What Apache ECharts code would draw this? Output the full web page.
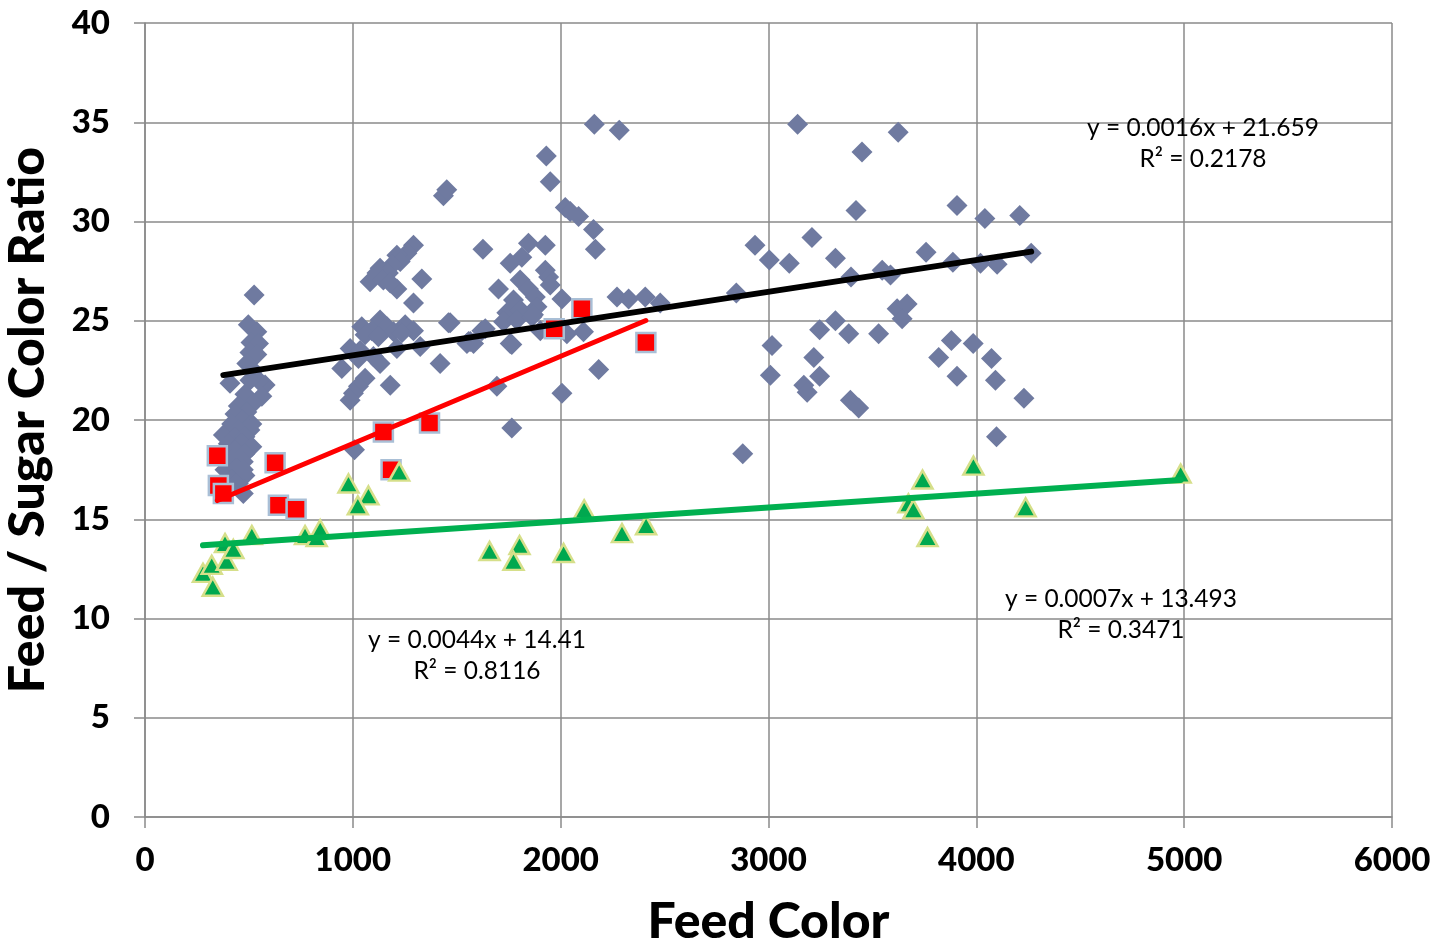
<!DOCTYPE html>
<html>
<head>
<meta charset="utf-8">
<script src="https://cdn.jsdelivr.net/npm/echarts@6/dist/echarts.min.js"></script>
<style>
html,body{margin:0;padding:0;background:#fff;}
#chart{width:1438px;height:944px;}
</style>
</head>
<body>
<div id="chart"></div>
<script>
// ---- Data ----
const xTicks = [0, 1000, 2000, 3000, 4000, 5000, 6000];
const yTicks = [0, 5, 10, 15, 20, 25, 30, 35, 40];

// Grey diamonds: [feed colour, ratio]
const diamondX = [
  525,497,538,510,546,505,538,490,521,409,578,546,505,562,481,521,449,490,433,465,514,417,449,505,377,433,481,401,465,514,433,481,417,473,385,441,481,417,449,473,473,441,
  1292,1260,1212,1228,1188,1131,1171,1083,1116,1147,1212,1180,1332,1292,1468,1043,1131,1164,1252,1091,1196,1292,1236,1059,1123,1324,987,1035,1212,1565,1099,1027,1131,947,1420,1059,1180,1027,1003,987,1008,1436,1452,1621,1557,1460,1549,
  2162,2282,1931,1950,2022,2046,2086,2158,2167,1626,1845,1926,1813,1757,1926,1805,1942,1701,1845,1950,1773,1878,2006,2271,2327,2407,2479,1741,1805,1886,1725,1789,1862,1637,1902,2030,2110,1765,1581,2183,1693,2006,1765,1869,1757,
  3140,3624,3450,3421,3907,4041,4209,3209,2935,3004,3100,3322,3758,3887,4020,4100,4264,3397,3547,3587,2845,3619,3667,3643,3322,3246,3386,3530,3017,3880,3985,3218,3819,4073,3009,3246,3907,4092,3170,3186,3394,3434,4229,4097,2876
];
const diamondY = [
  26.3,24.8,24.45,23.9,23.85,23.4,23.3,22.85,22.5,21.85,21.76,22.0,22.0,21.2,21.3,20.85,20.7,20.4,20.3,20.0,19.8,19.8,19.5,19.5,19.25,19.15,19.15,18.8,18.8,18.65,18.5,18.3,18.0,17.9,17.5,17.55,17.2,17.0,16.8,17.5,16.3,16.8,
  28.8,28.4,28.3,27.98,27.8,27.65,27.4,26.97,27.4,27.05,26.6,26.9,27.1,25.9,24.9,24.7,25.04,24.7,24.8,24.5,24.45,24.5,24.4,24.3,24.2,23.7,23.6,23.5,23.6,23.95,23.2,23.1,22.85,22.6,22.85,22.1,21.75,21.7,21.35,21.0,18.5,31.3,31.6,24.5,23.95,24.9,23.85,
  34.9,34.6,33.3,32.0,30.7,30.5,30.25,29.6,28.6,28.6,28.9,28.8,28.2,27.9,27.55,27.05,27.2,26.6,26.6,26.8,26.05,26.2,26.1,26.2,26.1,26.2,25.9,25.4,25.55,25.7,24.95,25.04,25.2,24.6,24.5,24.35,24.45,23.8,23.85,22.55,21.7,21.35,19.6,25.3,23.85,
  34.9,34.5,33.5,30.55,30.8,30.15,30.3,29.2,28.8,28.06,27.9,28.15,28.45,27.95,27.9,27.85,28.4,27.2,27.55,27.3,26.4,25.6,25.85,25.1,25.0,24.55,24.35,24.35,23.75,24.0,23.85,23.15,23.15,23.1,22.25,22.2,22.2,22.0,21.75,21.4,21.0,20.6,21.1,19.15,18.3
];

// Red squares
const squareX = [348,353,377,626,642,727,1147,1184,1369,1969,2102,2410];
const squareY = [18.2,16.7,16.3,17.85,15.7,15.5,19.4,17.5,19.85,24.6,25.6,23.9];

// Green triangles
const triangleX = [279,321,326,393,385,425,514,770,826,843,979,1075,1024,1223,1658,1802,1773,2014,2113,2295,2411,3673,3697,3741,3765,3986,4237,4983];
const triangleY = [12.3,12.7,11.6,12.9,13.8,13.5,14.2,14.2,14.1,14.5,16.8,16.2,15.7,17.4,13.4,13.7,12.9,13.3,15.5,14.3,14.7,15.8,15.5,17.0,14.1,17.7,15.6,17.3];

// Trendline equations shown on the chart: [slope, intercept, R²]
const trendDiamond  = [0.0016, 21.659, 0.2178];
const trendSquare   = [0.0044, 14.41, 0.8116];
const trendTriangle = [0.0007, 13.493, 0.3471];

const xTitle = 'Feed Color';
const yTitle = 'Feed / Sugar Color Ratio';

// ---- Build ----
const zip = (xs, ys) => xs.map((x, i) => [x, ys[i]]);
function trend(xs, t) {
  const lo = Math.min(...xs), hi = Math.max(...xs);
  return [[lo, t[0] * lo + t[1]], [hi, t[0] * hi + t[1]]];
}
function eqText(t) {
  return 'y = ' + t[0] + 'x + ' + t[1] + '\nR² = ' + t[2];
}

const FONT = 'Lato, "DejaVu Sans", sans-serif';
const GRID = '#8a8a8a';

function label(t, cx, ty) {
  return {type: 'text', x: cx, y: ty, z: 10,
    style: {text: eqText(t), font: '24.5px ' + FONT, fill: '#000',
            align: 'center', verticalAlign: 'top', lineHeight: 31}};
}

const chart = echarts.init(document.getElementById('chart'), null, {renderer: 'canvas'});
chart.setOption({
  animation: false,
  backgroundColor: '#ffffff',
  grid: {left: 145, right: 46, top: 23, bottom: 127, containLabel: false, outerBoundsMode: 'none'},
  xAxis: {
    type: 'value', min: xTicks[0], max: xTicks[xTicks.length - 1], interval: 1000,
    name: xTitle, nameLocation: 'middle', nameGap: 80,
    nameTextStyle: {fontFamily: FONT, fontWeight: 900, fontSize: 50, color: '#000'},
    axisLine: {show: true, lineStyle: {color: GRID, width: 1.5}},
    axisTick: {show: true, length: 11, inside: false, lineStyle: {color: GRID, width: 1.5}},
    axisLabel: {fontFamily: FONT, fontWeight: 900, fontSize: 33, color: '#000', margin: 27,
      formatter: v => String(v)},
    splitLine: {show: true, lineStyle: {color: GRID, width: 1.5}}
  },
  yAxis: {
    type: 'value', min: yTicks[0], max: yTicks[yTicks.length - 1], interval: 5,
    name: yTitle, nameLocation: 'middle', nameGap: 92, nameRotate: 90,
    nameTextStyle: {fontFamily: FONT, fontWeight: 900, fontSize: 50, color: '#000'},
    axisLine: {show: true, lineStyle: {color: GRID, width: 1.5}},
    axisTick: {show: true, length: 11, inside: false, lineStyle: {color: GRID, width: 1.5}},
    axisLabel: {fontFamily: FONT, fontWeight: 900, fontSize: 33, color: '#000', margin: 35,
      formatter: v => String(v)},
    splitLine: {show: true, lineStyle: {color: GRID, width: 1.5}}
  },
  series: [
    {
      type: 'scatter', data: zip(diamondX, diamondY), symbol: 'diamond', symbolSize: [21, 21],
      itemStyle: {color: '#6f7aa0', opacity: 1}, z: 2
    },
    {
      type: 'line', data: trend(diamondX, trendDiamond), symbol: 'none',
      lineStyle: {color: '#000000', width: 6, cap: 'round'}, z: 5
    },
    {
      type: 'scatter', data: zip(squareX, squareY), symbol: 'rect', symbolSize: 19,
      itemStyle: {color: '#ff0000', borderColor: '#a9bfd6', borderWidth: 2.5, opacity: 1}, z: 3
    },
    {
      type: 'line', data: trend(squareX, trendSquare), symbol: 'none',
      lineStyle: {color: '#ff0000', width: 5, cap: 'round'}, z: 6
    },
    {
      type: 'scatter', data: zip(triangleX, triangleY), symbol: 'triangle', symbolSize: [20, 18],
      itemStyle: {color: '#00a84f', borderColor: '#d6df8a', borderWidth: 2.5, opacity: 1}, z: 4
    },
    {
      type: 'line', data: trend(triangleX, trendTriangle), symbol: 'none',
      lineStyle: {color: '#00b050', width: 6, cap: 'round'}, z: 7
    }
  ],
  graphic: [
    label(trendDiamond, 1203, 113),
    label(trendTriangle, 1121, 584),
    label(trendSquare, 477, 625)
  ]
});
</script>
</body>
</html>
